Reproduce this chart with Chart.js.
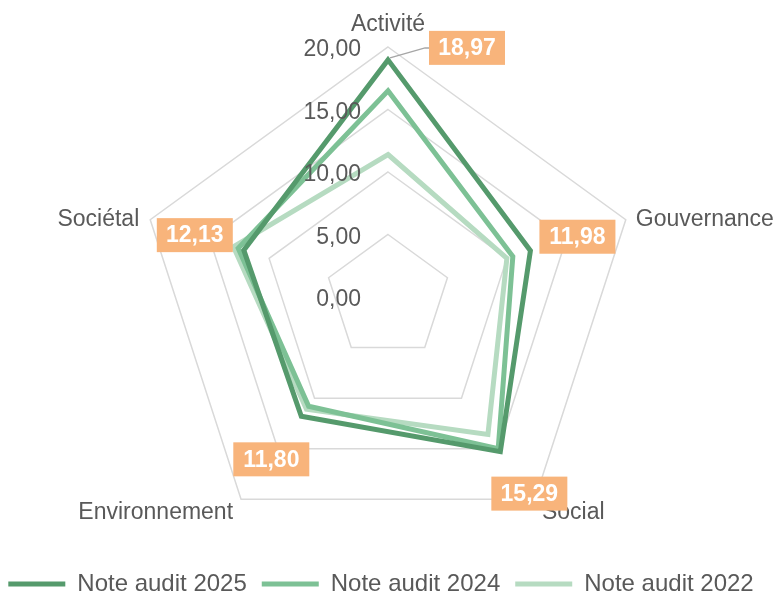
<!DOCTYPE html>
<html>
<head>
<meta charset="utf-8">
<script src="https://cdn.jsdelivr.net/npm/chart.js@4.4.1/dist/chart.umd.min.js"></script>
<style>
  html, body { margin: 0; padding: 0; background: #fff; }
  #wrap { width: 780px; height: 593px; }
</style>
</head>
<body>
<div id="wrap"><canvas id="radarChart"></canvas></div>
<script>
// données
var axes = ['Activité', 'Gouvernance', 'Social', 'Environnement', 'Sociétal'];
var note2025 = [18.97, 11.98, 15.29, 11.80, 12.13];
var note2024 = [16.5, 10.5, 15.0, 10.8, 12.6];
var note2022 = [11.4, 10.0, 13.6, 11.1, 13.0];
var seriesNames = ['Note audit 2025', 'Note audit 2024', 'Note audit 2022'];
var tickValues = [0, 5, 10, 15, 20];

var FONT = '"Liberation Sans", Arial, sans-serif';
var GREY = '#595959';

function fr(v) { return v.toFixed(2).replace('.', ','); }

// décalages des étiquettes (style seulement)
var pointLabelOffsets = [[0, -22, 'center'], [10, 0, 'left'], [7, 13, 'left'], [-8, 13, 'right'], [-11, 0, 'right']];
var valueBoxOffsets = [[79, -12], [47, -14], [29, 42], [-30, 43], [-49, -15]];

// étiquettes : graduations, axes, valeurs 2025
var labelsPlugin = {
  id: 'labelsPlugin',
  afterDraw: function (chart) {
    var ctx = chart.ctx;
    var r = chart.scales.r;
    ctx.save();

    // graduations
    ctx.font = '23px ' + FONT;
    ctx.fillStyle = GREY;
    ctx.textAlign = 'right';
    ctx.textBaseline = 'middle';
    tickValues.forEach(function (v) {
      ctx.fillText(fr(v), r.xCenter - 27, r.yCenter - r.getDistanceFromCenterForValue(v) + 3);
    });

    // noms des axes
    axes.forEach(function (name, i) {
      var p = r.getPointPosition(i, r.drawingArea);
      var o = pointLabelOffsets[i];
      ctx.textAlign = o[2];
      ctx.fillText(name, p.x + o[0], p.y + o[1]);
    });

    // valeurs de la série 2025
    var meta = chart.getDatasetMeta(0);
    ctx.font = 'bold 23px ' + FONT;
    ctx.textAlign = 'center';
    meta.data.forEach(function (pt, i) {
      var o = valueBoxOffsets[i];
      var cx = pt.x + o[0], cy = pt.y + o[1];
      var w = 76, h = 34;
      if (i === 0) {
        ctx.strokeStyle = '#a6a6a6';
        ctx.lineWidth = 1.5;
        ctx.beginPath();
        ctx.moveTo(pt.x + 2, pt.y - 2);
        ctx.lineTo(cx - w / 2 - 4, cy);
        ctx.lineTo(cx - w / 2, cy);
        ctx.stroke();
      }
      ctx.fillStyle = '#f8b47b';
      ctx.fillRect(cx - w / 2, cy - h / 2, w, h);
      ctx.fillStyle = '#ffffff';
      ctx.fillText(fr(note2025[i]), cx, cy + 1);
    });
    ctx.restore();
  }
};

function serie(label, data, color) {
  return {
    label: label,
    data: data,
    borderColor: color,
    backgroundColor: color,
    borderWidth: 5,
    borderCapStyle: 'round',
    fill: false,
    pointRadius: 0,
    tension: 0
  };
}

var ctx = document.getElementById('radarChart').getContext('2d');
var radarChart = new Chart(ctx, {
  type: 'radar',
  data: {
    labels: axes,
    datasets: [
      serie(seriesNames[0], note2025, '#559a6c'),
      serie(seriesNames[1], note2024, '#7dc195'),
      serie(seriesNames[2], note2022, '#b6dbc1')
    ]
  },
  options: {
    responsive: true,
    maintainAspectRatio: false,
    animation: false,
    layout: { padding: { bottom: -13, left: -9, right: 9 } },
    scales: {
      r: {
        min: 0,
        max: 20,
        ticks: { display: false, stepSize: 5 },
        grid: { color: '#d9d9d9', lineWidth: 1.5 },
        angleLines: { display: false },
        pointLabels: { display: false },
        afterFit: function (scale) {
          scale.xCenter = 388;
          scale.yCenter = 297;
          scale.drawingArea = 250;
        }
      }
    },
    plugins: {
      legend: {
        position: 'bottom',
        labels: {
          usePointStyle: true,
          pointStyle: 'line',
          pointStyleWidth: 57,
          color: GREY,
          padding: 15,
          font: { size: 24, family: FONT }
        }
      },
      tooltip: { enabled: false }
    }
  },
  plugins: [labelsPlugin]
});
</script>
</body>
</html>
